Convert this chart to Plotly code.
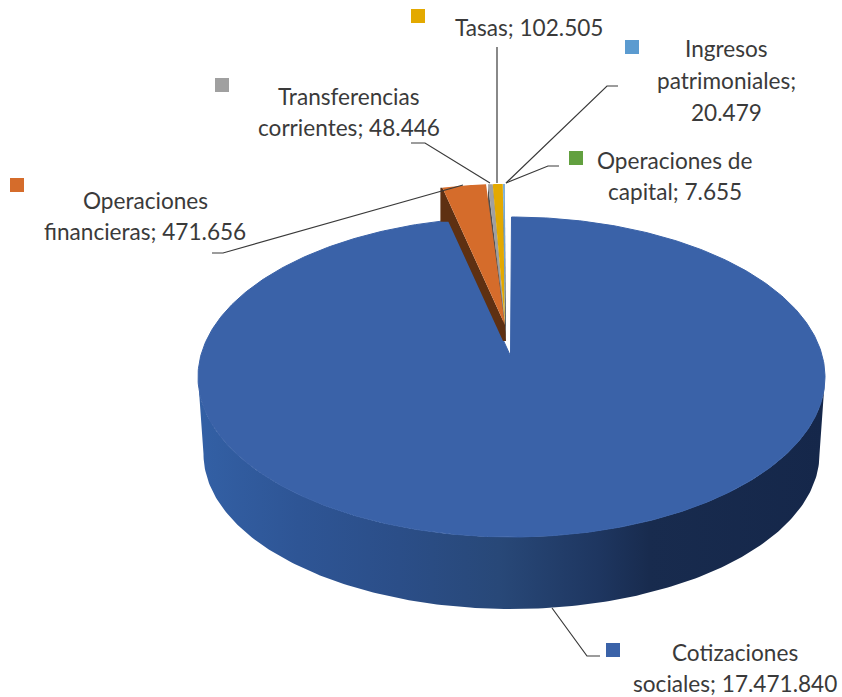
import numpy as np
import plotly.graph_objects as go

categories = ['Cotizaciones sociales', 'Operaciones financieras', 'Transferencias corrientes',
              'Tasas', 'Ingresos patrimoniales', 'Operaciones de capital']
values = [17471840, 471656, 48446, 102505, 20479, 7655]
colors = ['#3A62A8', '#D56C2B', '#A0A0A0', '#E3A900', '#5B9BD0', '#62A03F']
side_colors = ['#1E3560', '#5E3012', '#505050', '#5A5A50', '#404A50', '#404A50']
label_lines = [
    ['Cotizaciones', 'sociales; 17.471.840'],
    ['Operaciones', 'financieras; 471.656'],
    ['Transferencias', 'corrientes; 48.446'],
    ['Tasas; 102.505'],
    ['Ingresos', 'patrimoniales;', '20.479'],
    ['Operaciones de', 'capital; 7.655'],
]

# pixel layout of the picture, y goes down
TOP = dict(cx=511.5, cy=377, rx=313.5, ry=160, ax=510.5, ay=356)
BOTTOM = dict(cx=511.5, cy=454, rx=308, ry=155)
PULLED = dict(cx=505.5, cy=328, rx=282, ry=144, ax=505, ay=325)
SIDE_DROP = 34
APEX_DROP = 16
BLUE_END_EXTRA = 1.4  # big slice runs a bit under the brown cut face
ORANGE_GAP = 0.4

label_pos = [(735, [652, 683]), (145, [200, 231]), (349, [96, 127]),
             (529, [27]), (726, [48, 80, 112]), (675, [160, 191])]
key_pos = [(613, 650), (17, 185), (222, 85), (418, 16), (632, 47), (576, 158)]
leaders = [
    ([552, 587, 600], [608, 656, 656]),
    ([212, 223, 463], [253, 253, 185]),
    ([411, 425, 490], [143, 143, 183]),
    ([497, 497], [47, 183]),
    ([618, 607, 506], [86, 86, 183]),
    ([559, 548, 506], [166, 166, 183]),
]
wall_stops = [(0.0, '#3360A5'), (0.16, '#2E5595'), (0.32, '#2B4E88'), (0.48, '#284878'),
              (0.64, '#1E3660'), (0.72, '#182B4E'), (1.0, '#15274A')]


def rim(g, a0, a1, n=200):
    t = np.radians(np.linspace(a0, a1, n))
    return g['cx'] + g['rx'] * np.sin(t), g['cy'] - g['ry'] * np.cos(t)


fig = go.Figure()


def poly(x, y, color):
    fig.add_trace(go.Scatter(x=x, y=y, mode='lines', fill='toself', fillcolor=color,
                             line=dict(width=0, color=color), hoverinfo='skip'))


angles = np.cumsum([0] + values) / sum(values) * 360

# outer wall of the big slice
tx, ty = rim(TOP, 270, 90)
bx, by = rim(BOTTOM, 90, 270)
fig.add_trace(go.Scatter(
    x=np.r_[tx, bx], y=np.r_[ty, by], mode='lines', fill='toself',
    line=dict(width=0),
    fillgradient=dict(type='horizontal', colorscale=wall_stops, start=198, stop=825),
    hoverinfo='skip'))

# top of the big slice
rx_, ry_ = rim(TOP, angles[0], angles[1] + BLUE_END_EXTRA, 500)
fig.add_trace(go.Scatter(x=np.r_[TOP['ax'], rx_, TOP['ax']], y=np.r_[TOP['ay'], ry_, TOP['ay']],
                         mode='lines', fill='toself', fillcolor=colors[0],
                         line=dict(width=1, color=colors[0]), hoverinfo='skip'))

# pulled out slices: cut faces first, right one to left one, then the tops
ax, ay = PULLED['ax'], PULLED['ay']
for i in range(5, 1, -1):
    rx_, ry_ = rim(PULLED, angles[i], angles[i], 1)
    poly([rx_[0], ax, ax + 1, rx_[0], rx_[0]],
         [ry_[0], ay, ay + APEX_DROP, ry_[0] + SIDE_DROP, ry_[0]],
         side_colors[i])
# the orange cut face is the only one that shows at the rim
rx_, ry_ = rim(PULLED, angles[1], angles[1], 1)
x0, y0 = rx_[0], ry_[0]
poly([x0, ax, ax + 1, ax - 2, x0 + 6, x0 - 2, x0 - 2, x0],
     [y0, ay, ay + APEX_DROP, ay + APEX_DROP, y0 + SIDE_DROP, y0 + SIDE_DROP, y0, y0],
     side_colors[1])
for i in range(1, 6):
    gap = ORANGE_GAP if i == 1 else 0
    rx_, ry_ = rim(PULLED, angles[i], angles[i + 1] - gap, 30)
    poly(np.r_[ax, rx_, ax], np.r_[ay, ry_, ay], colors[i])

# leader lines
for lx, ly in leaders:
    fig.add_trace(go.Scatter(x=lx, y=ly, mode='lines', line=dict(color='#3A3A3A', width=1.2),
                             hoverinfo='skip'))

# colour keys
fig.add_trace(go.Scatter(x=[p[0] for p in key_pos], y=[p[1] for p in key_pos], mode='markers',
                         marker=dict(symbol='square', size=14, color=colors, line=dict(width=0)),
                         hoverinfo='skip'))

# data labels, one annotation per line
for lines, (cx, ys) in zip(label_lines, label_pos):
    for line, y in zip(lines, ys):
        fig.add_annotation(x=cx, y=y, text=line, showarrow=False, xanchor='center', yanchor='middle',
                           font=dict(family='Lato', size=22.6, color='#3A3A3A'))

fig.update_xaxes(range=[0, 842], visible=False)
fig.update_yaxes(range=[697, 0], visible=False)
fig.update_layout(width=842, height=697, margin=dict(l=0, r=0, t=0, b=0),
                  showlegend=False, plot_bgcolor='white', paper_bgcolor='white')

fig.write_html('out.html', config={'displayModeBar': False},
               post_script="document.body.style.margin='0'")
